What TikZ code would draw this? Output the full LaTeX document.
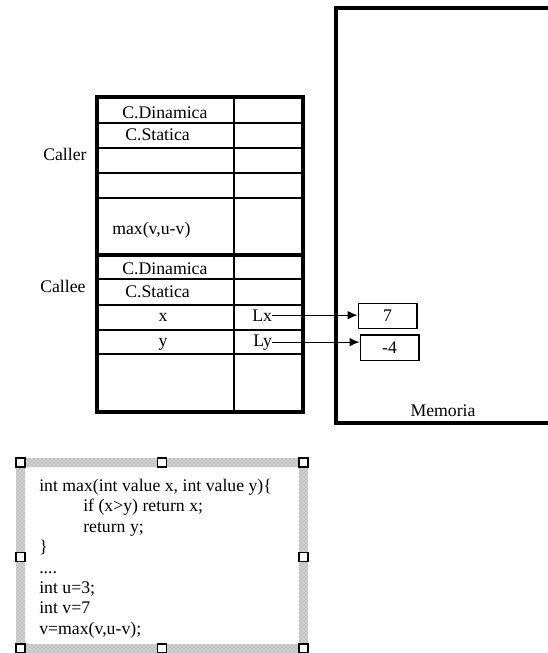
\documentclass[tikz,border=0pt]{standalone}
\usepackage{fontspec}
\setmainfont{Liberation Serif}
\usetikzlibrary{arrows.meta,positioning,patterns}

\begin{document}
\begin{tikzpicture}[x=0.75pt,y=-0.75pt,
  every node/.style={font=\fontsize{13.3}{15}\selectfont, inner sep=0pt},
  frame/.style={line width=2.6pt},
  rowline/.style={line width=1.1pt},
  membox/.style={line width=2.3pt},
  cellbox/.style={draw, line width=1pt, minimum width=44pt, minimum height=19pt},
  ptr/.style={-{Latex[length=7.5pt,width=6.5pt]}, line width=0.8pt},
  handle/.style={draw, fill=white, line width=1.1pt, minimum size=6.8pt},
  band/.style={even odd rule, preaction={fill=gray!35, even odd rule}, pattern=crosshatch dots, pattern color=gray!95},
]
\useasboundingbox (0,0) rectangle (548,653);

% Memoria
\draw[membox] (548,8) -- (336,8) -- (336,423) -- (548,423);
\node[anchor=base] (mem) at (443,416) {Memoria};

% stack: Caller / Callee
\draw[frame] (97,97) rectangle (303,412);
\draw[frame] (97,255) -- (303,255);
\draw[rowline] (234,97) -- (234,412);
\foreach \yy in {123,148,173,198,279,305,330,354}
  \draw[rowline] (97,\yy) -- (303,\yy);

\node[anchor=base west] (caller) at (43,160) {Caller};
\node[anchor=base west] (callee) at (40,292) {Callee};

\node[anchor=base west] (cdyn1) at (122,118) {C.Dinamica};
\node[anchor=base west] (csta1) at (125,140) {C.Statica};
\node[anchor=base west] (call) at (112,234) {max(v,u-v)};

\node[anchor=base west] (cdyn2) at (122,274) {C.Dinamica};
\node[anchor=base west] (csta2) at (125,297) {C.Statica};
\node[anchor=base] (parx) at (163,321) {x};
\node[anchor=base] (pary) at (163,346) {y};
\node[anchor=base west] (lx) at (252,321) {Lx};
\node[anchor=base west] (ly) at (253,346) {Ly};

% celle in memoria
\node[cellbox] (valx) at (387.5,316) {7};
\node[cellbox] (valy) at (389.5,347.5) {-4};

\draw[ptr] (lx.east) -- (lx.east -| valx.west);
\draw[ptr] (ly.east) -- (ly.east -| valy.west);

% codice
\fill[band] (16,458) rectangle (308,653) (25,467) rectangle (299,644);
\foreach \xx/\yy in {20.5/462.5,162/462.5,303.5/462.5,20.5/557,303.5/557,20.5/648.5,162/648.5,303.5/648.5}
  \node[handle] at (\xx,\yy) {};

\foreach \yy/\xx/\txt [count=\i] in {491/39/{int max(int value x, int value y)\{},
    511.5/83/{if (x>y) return x;}, 532/83/{return y;}, 552/39/{\}},
    573/39/{....}, 593/39/{int u=3;}, 613/39/{int v=7}, 634/39/{v=max(v,u-v);}}
  \node[anchor=base west] (code\i) at (\xx,\yy) {\txt};
\end{tikzpicture}
\end{document}
